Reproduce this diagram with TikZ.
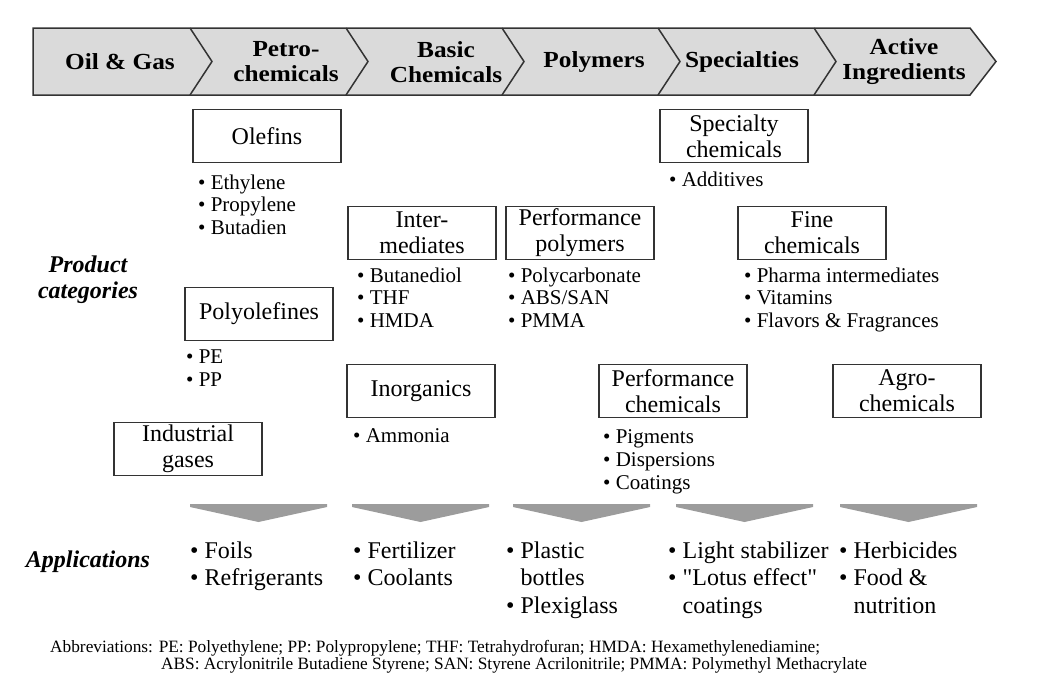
\documentclass[tikz,border=0pt]{standalone}
\usepackage{fontspec}
\setmainfont{Liberation Serif}
\newfontfamily\stagefont[FakeStretch=1.1]{Liberation Serif}
\definecolor{ribbongray}{HTML}{DADADA}
\definecolor{arrowgray}{HTML}{9C9C9C}
\definecolor{linegray}{HTML}{333333}

\begin{document}
\begin{tikzpicture}[x=1pt,y=-1pt]
%
\path[use as bounding box] (0,0) rectangle (1041,673);
%
\newcommand{\prodbox}[4]{
  \node[draw=linegray,line width=1.3pt,minimum width=148pt,minimum height=53pt,inner sep=0pt,
        align=center,font=\fontsize{24}{26}\selectfont] (#1) at (#2,#3) {#4};
}
\newcommand{\prodlist}[4]{
  \node[anchor=north west,align=left,inner sep=0pt,font=\fontsize{21}{22.7}\selectfont] (#1) at (#2,#3) {#4};
}
\newcommand{\applist}[4]{
  \node[anchor=north west,align=left,inner sep=0pt,font=\fontsize{24}{27.5}\selectfont] (#1) at (#2,#3) {#4};
}
%
% value chain ribbon
\draw[fill=ribbongray,draw=linegray,line width=1.5pt] (33,28) -- (970,28) -- (996,61.5) -- (970,95) -- (33,95) -- cycle;
\foreach \x in {190,346,502,658,814}{
  \draw[linegray,line width=1.5pt] (\x,28) -- (\x+22,61.5) -- (\x,95);
}
\foreach \x/\n/\t in {120/oilgas/{Oil \& Gas},286/petro/{Petro-\\chemicals},446/basic/{Basic\\Chemicals},
                      594/polymers/{Polymers},742/specialties/{Specialties},904/active/{Active\\Ingredients}}{
  \node[align=center,inner sep=0pt,font=\stagefont\bfseries\fontsize{23}{25}\selectfont] (\n) at (\x,62) {\t};
}
%
% row labels
\node[align=center,font=\bfseries\itshape\fontsize{24}{26}\selectfont] (prodcat) at (88,280) {Product\\categories};
\node[align=center,font=\bfseries\itshape\fontsize{24}{26}\selectfont] (applabel) at (88,562) {Applications};
%
% product categories
\prodbox{olefins}{267}{136}{Olefins}
\prodbox{polyolefines}{259}{314}{Polyolefines}
\prodbox{indgases}{188}{449}{Industrial\\gases}
\prodbox{intermed}{422}{233}{Inter-\\mediates}
\prodbox{inorganics}{421}{391}{Inorganics}
\prodbox{perfpoly}{580}{233}{Performance\\polymers}
\prodbox{perfchem}{673}{391}{Performance\\chemicals}
\prodbox{specchem}{734}{136}{Specialty\\chemicals}
\prodbox{finechem}{812}{233}{Fine\\chemicals}
\prodbox{agrochem}{907}{391}{Agro-\\chemicals}
%
\prodlist{olefinsitems}{198}{174.5}{• Ethylene\\• Propylene\\• Butadien}
\prodlist{polyolefinesitems}{186}{349.5}{• PE\\• PP}
\prodlist{intermeditems}{357}{267.5}{• Butanediol\\• THF\\• HMDA}
\prodlist{inorganicsitems}{353}{428.5}{• Ammonia}
\prodlist{perfpolyitems}{508}{267.5}{• Polycarbonate\\• ABS/SAN\\• PMMA}
\prodlist{perfchemitems}{603}{429.5}{• Pigments\\• Dispersions\\• Coatings}
\prodlist{specchemitems}{669}{171.5}{• Additives}
\prodlist{finechemitems}{744}{267.5}{• Pharma intermediates\\• Vitamins\\• Flavors \& Fragrances}
%
% down arrows
\foreach \x in {190,352,513,676,840}{
  \fill[arrowgray] (\x,504) -- (\x+137,504) -- (\x+137,507) -- (\x+68.5,522) -- (\x,507) -- cycle;
}
%
% applications
\applist{app1}{190}{541.5}{• Foils\\• Refrigerants}
\applist{app2}{353}{541.5}{• Fertilizer\\• Coolants}
\applist{app3}{506}{541.5}{• Plastic\\\phantom{• }bottles\\• Plexiglass}
\applist{app4}{668}{541.5}{• Light stabilizer\\• \textquotedbl Lotus effect\textquotedbl\\\phantom{• }coatings}
\applist{app5}{839}{541.5}{• Herbicides\\• Food \&\\\phantom{• }nutrition}
%
% abbreviations
\node[anchor=west,inner sep=0pt,font=\fontsize{17.3}{18}\selectfont] (abbr1) at (50,648)
  {Abbreviations: PE: Polyethylene; PP: Polypropylene; THF: Tetrahydrofuran; HMDA: Hexamethylenediamine;};
\node[anchor=west,inner sep=0pt,font=\fontsize{17.3}{18}\selectfont] (abbr2) at (161,665)
  {ABS: Acrylonitrile Butadiene Styrene; SAN: Styrene Acrilonitrile; PMMA: Polymethyl Methacrylate};
%
\end{tikzpicture}
\end{document}
